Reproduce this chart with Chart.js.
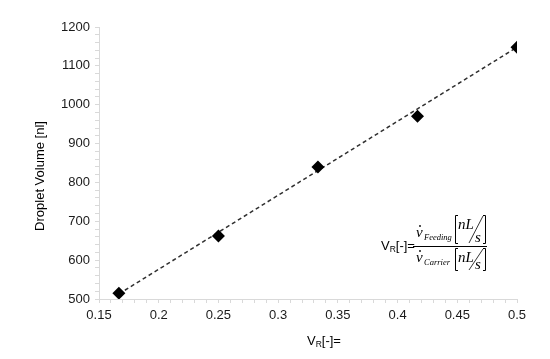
<!DOCTYPE html>
<html>
<head>
<meta charset="utf-8">
<script src="https://cdn.jsdelivr.net/npm/chart.js@4.4.0/dist/chart.umd.min.js"></script>
<style>
	html, body { margin: 0; padding: 0; background: #fff; }
	#wrap { width: 550px; height: 359px; }
</style>
</head>
<body>
<div id="wrap"><canvas id="chart" width="550" height="359"></canvas></div>
<script>
// measured points
var ratioVR = [1 / 6, 0.25, 1 / 3, 5 / 12, 0.5];
var dropletVolume = [515, 662, 840, 970, 1148];

// linear trend line, end points
var trendX = [1 / 6, 0.5];
var trendY = [513, 1148];

var xTitle = 'V';
var yTitle = 'Droplet Volume [nl]';

var axisGrey = '#d9d9d9';
var textColor = '#1a1a1a';

function isMajorX(v) {
	return Math.abs(v * 20 - Math.round(v * 20)) < 1e-6;
}

// titles and the V_R formula, drawn as canvas text
var textPlugin = {
	id: 'texts',
	afterDraw: function (chart) {
		var ctx = chart.ctx;
		ctx.save();
		ctx.fillStyle = '#000';
		ctx.textBaseline = 'alphabetic';

		// y axis title
		ctx.save();
		ctx.translate(44, 176);
		ctx.rotate(-Math.PI / 2);
		ctx.font = '13px "Liberation Sans", Arial, sans-serif';
		ctx.textAlign = 'center';
		ctx.fillText(yTitle, 0, 0);
		ctx.restore();

		// x axis title V_R[-]=
		drawVR(ctx, 307, 345);

		// formula
		drawVR(ctx, 381, 250);
		ctx.strokeStyle = '#000';
		ctx.lineWidth = 1;
		ctx.beginPath();
		ctx.moveTo(413, 246.5);
		ctx.lineTo(487, 246.5);
		ctx.stroke();
		drawFlow(ctx, 416, 237, 'Feeding', 455, 215, 244);
		drawFlow(ctx, 416, 262, 'Carrier', 455, 248, 271);

		ctx.restore();
	}
};

function drawVR(ctx, x, y) {
	ctx.textAlign = 'left';
	ctx.font = '13px "Liberation Sans", Arial, sans-serif';
	ctx.fillText(xTitle, x, y);
	var w = ctx.measureText(xTitle).width;
	ctx.font = '8.5px "Liberation Sans", Arial, sans-serif';
	ctx.fillText('R', x + w, y + 2);
	w += ctx.measureText('R').width;
	ctx.font = '13px "Liberation Sans", Arial, sans-serif';
	ctx.fillText('[-]=', x + w, y);
}

function drawFlow(ctx, x, y, name, bx, top, bottom) {
	ctx.textAlign = 'left';
	ctx.font = 'italic 15px "Liberation Serif", "DejaVu Serif", serif';
	ctx.fillText('v', x, y);
	// dot over v
	ctx.beginPath();
	ctx.arc(x + 4, y - 11, 0.9, 0, Math.PI * 2);
	ctx.fill();
	ctx.font = 'italic 8.5px "Liberation Serif", "DejaVu Serif", serif';
	ctx.fillText(name, x + 8, y + 3);

	// brackets
	ctx.strokeStyle = '#000';
	ctx.lineWidth = 1;
	var right = bx + 31;
	ctx.beginPath();
	ctx.moveTo(bx + 3, top + 0.5);
	ctx.lineTo(bx + 0.5, top + 0.5);
	ctx.lineTo(bx + 0.5, bottom - 0.5);
	ctx.lineTo(bx + 3, bottom - 0.5);
	ctx.moveTo(right - 3, top + 0.5);
	ctx.lineTo(right - 0.5, top + 0.5);
	ctx.lineTo(right - 0.5, bottom - 0.5);
	ctx.lineTo(right - 3, bottom - 0.5);
	ctx.stroke();

	// nL / s
	ctx.font = 'italic 15px "Liberation Serif", "DejaVu Serif", serif';
	ctx.fillText('nL', bx + 3, top + 14);
	ctx.fillText('s', bx + 20, bottom - 2);
	ctx.lineWidth = 0.8;
	ctx.beginPath();
	ctx.moveTo(bx + 28, top + 1);
	ctx.lineTo(bx + 14, bottom - 1);
	ctx.stroke();
}

var ctxL = document.getElementById('chart').getContext('2d');
var myChart = new Chart(ctxL, {
	type: 'scatter',
	data: {
		datasets: [
			{
				label: 'Trend',
				data: trendX.map(function (x, i) { return { x: x, y: trendY[i] }; }),
				showLine: true,
				borderColor: '#303030',
				borderWidth: 1.5,
				borderDash: [4, 3],
				pointRadius: 0,
				order: 2
			},
			{
				label: 'Droplet Volume',
				data: ratioVR.map(function (x, i) { return { x: x, y: dropletVolume[i] }; }),
				pointStyle: 'rectRot',
				pointRadius: 6.5,
				backgroundColor: '#000',
				borderColor: '#000',
				borderWidth: 0,
				order: 1
			}
		]
	},
	options: {
		responsive: false,
		animation: false,
		layout: { padding: { left: 0, right: 33, top: 27, bottom: 0 } },
		plugins: {
			legend: { display: false },
			tooltip: { enabled: false }
		},
		scales: {
			x: {
				type: 'linear',
				min: 0.15,
				max: 0.5,
				afterFit: function (scale) { scale.height = 60; },
				afterBuildTicks: function (scale) {
					var t = [];
					for (var i = 15; i <= 50; i++) t.push({ value: i / 100 });
					scale.ticks = t;
				},
				grid: {
					drawOnChartArea: false,
					drawTicks: true,
					tickLength: 4,
					color: axisGrey
				},
				border: { color: axisGrey, width: 1 },
				ticks: {
					autoSkip: false,
					maxRotation: 0,
					padding: 5,
					color: textColor,
					font: { family: '"Liberation Sans", Arial, sans-serif', size: 13 },
					callback: function (v) {
						return isMajorX(v) ? String(Number(v.toFixed(2))) : '';
					}
				}
			},
			y: {
				type: 'linear',
				min: 500,
				max: 1200,
				afterFit: function (scale) { scale.width = 99; },
				grid: {
					drawOnChartArea: false,
					drawTicks: true,
					tickLength: 4,
					color: axisGrey
				},
				border: { color: axisGrey, width: 1 },
				ticks: {
					stepSize: 20,
					autoSkip: false,
					padding: 5,
					color: textColor,
					font: { family: '"Liberation Sans", Arial, sans-serif', size: 13 },
					callback: function (v) {
						return v % 100 === 0 ? String(v) : '';
					}
				}
			}
		}
	},
	plugins: [textPlugin]
});
</script>
</body>
</html>
